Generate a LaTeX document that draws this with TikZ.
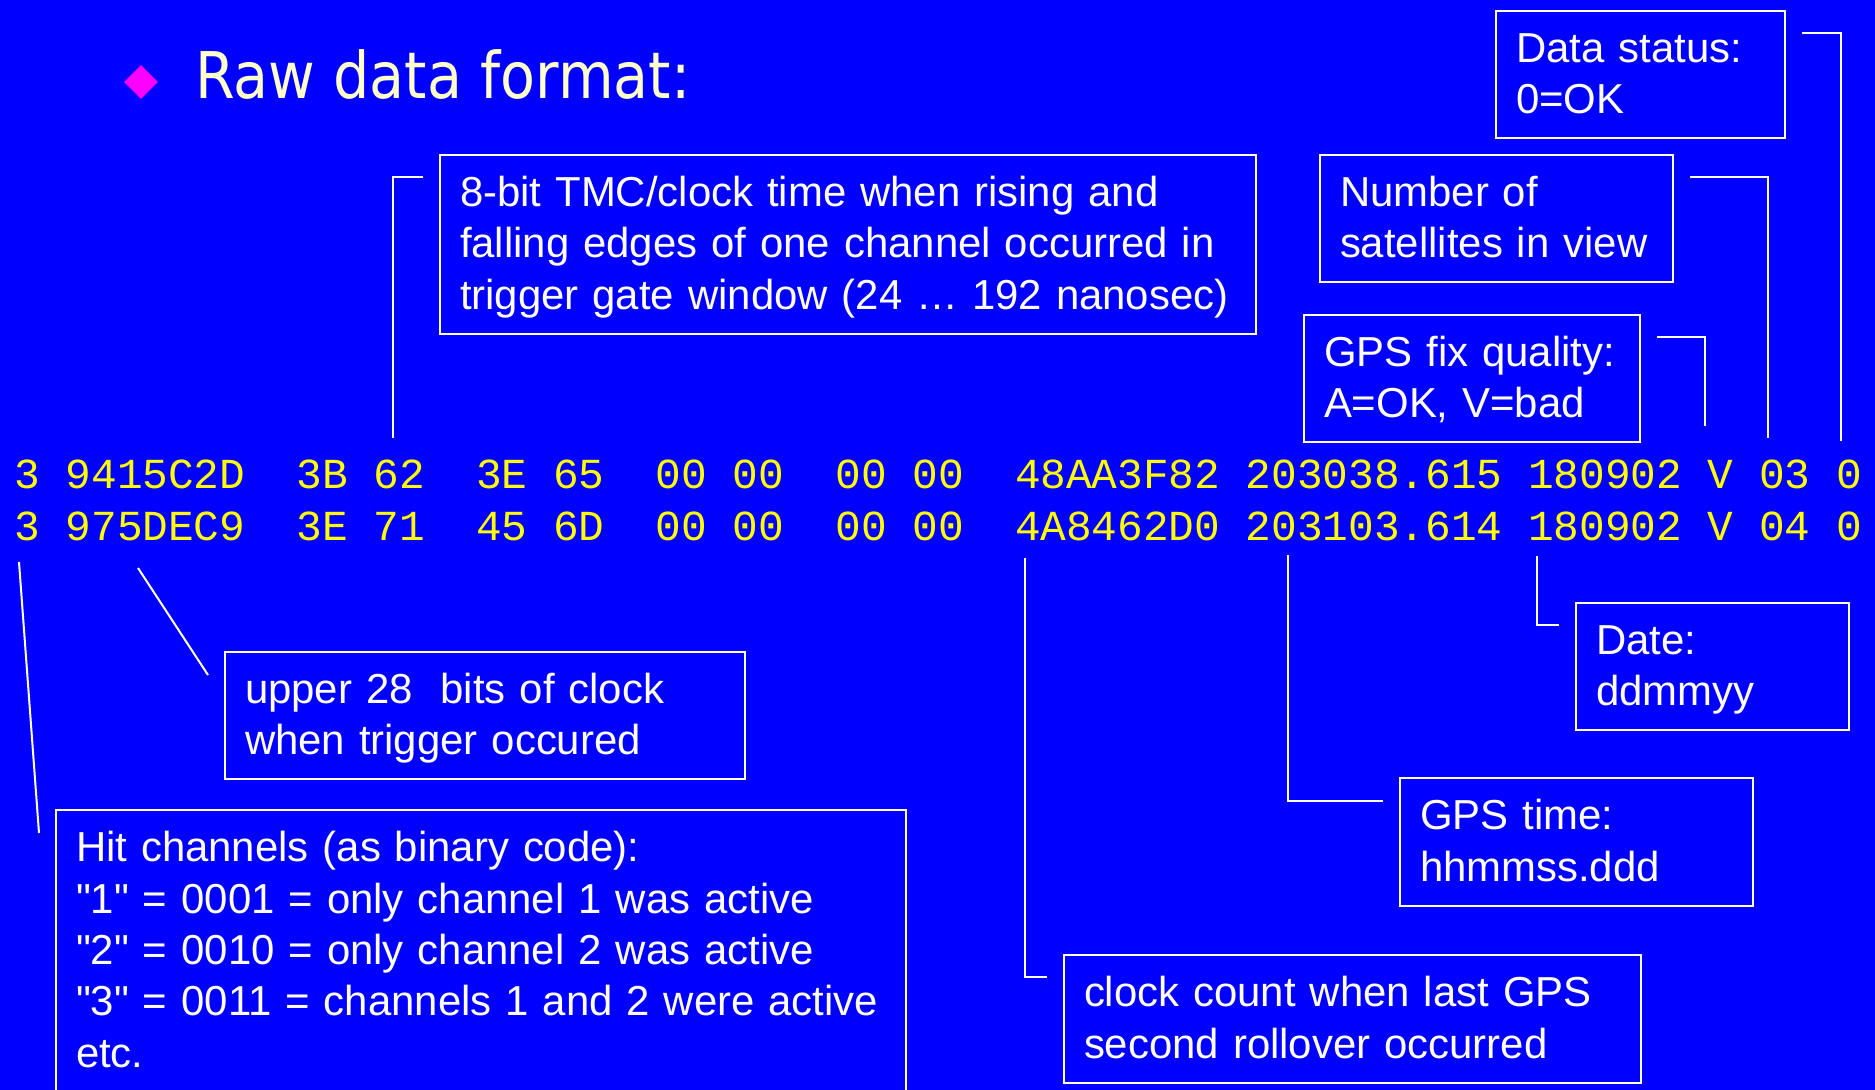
\documentclass[tikz,border=0pt]{standalone}
\usepackage{fontspec}
\usetikzlibrary{calc,shapes.geometric}
\newfontfamily\boxfont{Liberation Sans}
\newfontfamily\rowfont{Liberation Mono}
\newfontfamily\titlefont[FakeStretch=0.887]{DejaVu Sans}
\definecolor{slideblue}{HTML}{0000FF}
\definecolor{titleyellow}{HTML}{FFFFCC}
\definecolor{rowyellow}{HTML}{FFFF00}
\definecolor{bulletpink}{HTML}{FF00FF}
\tikzset{
  infobox/.style={draw=white, line width=1pt, text=white, anchor=north west,
    inner xsep=0pt, inner ysep=2pt, align=left, text width=#1*0.5pt,
    font=\boxfont\fontsize{20.95pt}{25.75pt}\selectfont,
    execute at begin node={\leftskip=10pt\rule{0pt}{23.75pt}},
    execute at end node={\rule[-10.25pt]{0pt}{10.25pt}}},
  datarow/.style={anchor=base west, inner sep=0pt, text=rowyellow,
    font=\rowfont\fontsize{21.38pt}{25pt}\selectfont},
  pointer/.style={draw=white, line width=1pt}
}
\begin{document}
\begin{tikzpicture}[x=0.5pt,y=-0.5pt]
\fill[slideblue] (0,0) rectangle (1875,1090);
\useasboundingbox (0,0) rectangle (1875,1090);
\node[diamond, fill=bulletpink, inner sep=0pt, minimum width=17pt, minimum height=17pt] (bullet) at (141,82) {};
\node[anchor=base west, inner sep=0pt, text=titleyellow, font=\titlefont\fontsize{32.2pt}{38pt}\selectfont] (title) at (195,99) {Raw data format:};
\node[datarow] (row1) at (14,489) {3~9415C2D~~3B~62~~3E~65~~00~00~~00~00~~48AA3F82~203038.615~180902~V~03~0};
\node[datarow] (row2) at (14,541) {3~975DEC9~~3E~71~~45~6D~~00~00~~00~00~~4A8462D0~203103.614~180902~V~04~0};
\node[infobox=289] (status) at (1495,10) {Data status:\\0=OK};
\node[infobox=353] (sats) at (1319,154) {Number of\\satellites in view};
\node[infobox=336] (fix) at (1303,314) {GPS fix quality:\\A=OK, V=bad};
\node[infobox=816] (tmc) at (439,154) {8-bit TMC/clock time when rising and\\falling edges of one channel occurred in\\trigger gate window (24 … 192 nanosec)};
\node[infobox=520] (upper) at (224,651) {upper 28~ bits of clock\\when trigger occured};
\node[infobox=850] (hit) at (55,809) {Hit channels (as binary code):\\"1" = 0001 = only channel 1 was active\\"2" = 0010 = only channel 2 was active\\"3" = 0011 = channels 1 and 2 were active\\etc.};
\node[infobox=273] (date) at (1575,602) {Date:\\ddmmyy};
\node[infobox=353] (gpstime) at (1399,777) {GPS time:\\hhmmss.ddd};
\node[infobox=577] (clock) at (1063,954) {clock count when last GPS\\second rollover occurred};
\coordinate (status-tip) at (1841,441);
\coordinate (sats-tip) at (1768,438);
\coordinate (fix-tip) at (1705,426);
\coordinate (tmc-tip) at (393,438);
\coordinate (upper-tip) at (138,568);
\coordinate (hit-tip) at (19,562);
\coordinate (date-tip) at (1537,556);
\coordinate (gpstime-tip) at (1288,555);
\coordinate (clock-tip) at (1025,558);
\draw[pointer] ($(status.north east)+(16,23)$) -| (status-tip);
\draw[pointer] ($(sats.north east)+(16,23)$) -| (sats-tip);
\draw[pointer] ($(fix.north east)+(16,23)$) -| (fix-tip);
\draw[pointer] ($(tmc.north west)+(-16,23)$) -| (tmc-tip);
\draw[pointer] (upper-tip) -- ($(upper.north west)+(-16,24)$);
\draw[pointer] (hit-tip) -- ($(hit.north west)+(-16,24)$);
\draw[pointer] (date-tip) |- ($(date.north west)+(-16,23)$);
\draw[pointer] (gpstime-tip) |- ($(gpstime.north west)+(-16,24)$);
\draw[pointer] (clock-tip) |- ($(clock.north west)+(-16,23)$);
\end{tikzpicture}
\end{document}
